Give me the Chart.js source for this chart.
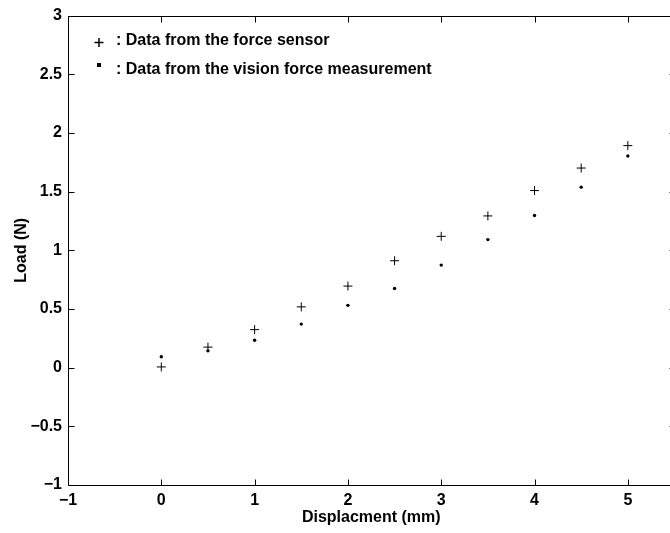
<!DOCTYPE html>
<html>
<head>
<meta charset="utf-8">
<script src="https://cdn.jsdelivr.net/npm/chart.js@4.4.0/dist/chart.umd.min.js"></script>
<style>
    html, body { margin: 0; padding: 0; background: #fff; overflow: hidden; }
    #wrap { width: 680px; height: 533px; }
</style>
</head>
<body>
<div id="wrap"><canvas id="chart" width="680" height="533"></canvas></div>
<script>
// Datos
const desplazamiento = [0, 0.5, 1, 1.5, 2, 2.5, 3, 3.5, 4, 4.5, 5];
const cargaSensor = [0.006, 0.175, 0.324, 0.518, 0.695, 0.911, 1.119, 1.293, 1.509, 1.701, 1.892];
const cargaVision = [0.093, 0.143, 0.234, 0.371, 0.531, 0.675, 0.874, 1.091, 1.296, 1.538, 1.804];

const ticksX = [-1, 0, 1, 2, 3, 4, 5];
const ticksY = [-1, -0.5, 0, 0.5, 1, 1.5, 2, 2.5, 3];
const leyenda = [': Data from the force sensor', ': Data from the vision force measurement'];

const FUENTE = "'Liberation Sans', Arial, Helvetica, sans-serif";

// Formato de etiquetas con signo menos tipográfico
function formatoTick(v) {
    return String(v).replace('-', '\u2212');
}

// Marco y marcas hacia dentro, estilo MATLAB
const marcoPlugin = {
    id: 'marco',
    afterDraw(chart) {
        const ctx = chart.ctx;
        const a = chart.chartArea;
        const sx = chart.scales.x;
        const sy = chart.scales.y;
        const L = Math.round(a.left) + 0.5;
        const R = Math.round(a.right) + 0.5;
        const T = Math.round(a.top) + 0.5;
        const B = Math.round(a.bottom) + 0.5;
        const largo = 6;

        ctx.save();
        ctx.strokeStyle = '#000';
        ctx.lineWidth = 1;
        ctx.beginPath();
        ctx.rect(L, T, R - L, B - T);
        ctx.stroke();

        ctx.beginPath();
        ticksX.forEach(v => {
            const px = Math.round(sx.getPixelForValue(v)) + 0.5;
            ctx.moveTo(px, B); ctx.lineTo(px, B - largo);
            ctx.moveTo(px, T); ctx.lineTo(px, T + largo);
        });
        ticksY.forEach(v => {
            const py = Math.round(sy.getPixelForValue(v)) + 0.5;
            ctx.moveTo(L, py); ctx.lineTo(L + largo, py);
            ctx.moveTo(R, py); ctx.lineTo(R - largo, py);
        });
        ctx.stroke();

        // Leyenda
        ctx.fillStyle = '#000';
        ctx.font = 'bold 16px ' + FUENTE;
        ctx.textBaseline = 'middle';
        ctx.textAlign = 'left';

        ctx.beginPath();
        ctx.moveTo(94.5, 42.5); ctx.lineTo(103.5, 42.5);
        ctx.moveTo(99, 38); ctx.lineTo(99, 47);
        ctx.lineWidth = 1.5;
        ctx.stroke();
        ctx.fillText(leyenda[0], 116, 41);

        ctx.fillRect(97, 63, 4, 4);
        ctx.fillText(leyenda[1], 116, 70);
        ctx.restore();
    }
};

const ctx = document.getElementById('chart').getContext('2d');
const grafico = new Chart(ctx, {
    type: 'scatter',
    data: {
        datasets: [
            {
                label: 'Data from the force sensor',
                data: desplazamiento.map((x, i) => ({ x: x, y: cargaSensor[i] })),
                pointStyle: 'cross',
                radius: 4.5,
                borderColor: '#000',
                borderWidth: 1
            },
            {
                label: 'Data from the vision force measurement',
                data: desplazamiento.map((x, i) => ({ x: x, y: cargaVision[i] })),
                pointStyle: 'circle',
                radius: 1.7,
                backgroundColor: '#000',
                borderWidth: 0
            }
        ]
    },
    options: {
        responsive: false,
        animation: false,
        events: [],
        layout: { padding: { top: 11, right: 5.4, left: 0, bottom: 0 } },
        plugins: {
            legend: { display: false },
            tooltip: { enabled: false }
        },
        scales: {
            x: {
                type: 'linear',
                min: -1,
                max: 5.5,
                afterBuildTicks: s => { s.ticks = ticksX.map(v => ({ value: v })); },
                afterFit: s => { s.height = 48; },
                grid: { display: false, drawTicks: false },
                border: { display: false },
                ticks: {
                    padding: 6,
                    color: '#000',
                    font: { family: FUENTE, size: 16, weight: 'bold' },
                    callback: formatoTick,
                    maxRotation: 0,
                    autoSkip: false
                },
                title: {
                    display: true,
                    text: 'Displacment (mm)',
                    color: '#000',
                    font: { family: FUENTE, size: 16, weight: 'bold' },
                    padding: { top: 0, bottom: 6 }
                }
            },
            y: {
                type: 'linear',
                min: -1,
                max: 3,
                afterBuildTicks: s => { s.ticks = ticksY.map(v => ({ value: v })); },
                afterFit: s => { s.width = 68; },
                grid: { display: false, drawTicks: false },
                border: { display: false },
                ticks: {
                    padding: 6,
                    color: '#000',
                    font: { family: FUENTE, size: 16, weight: 'bold' },
                    callback: formatoTick,
                    autoSkip: false
                },
                title: {
                    display: true,
                    text: 'Load (N)',
                    color: '#000',
                    font: { family: FUENTE, size: 16, weight: 'bold' },
                    padding: { top: 12, bottom: 0 }
                }
            }
        }
    },
    plugins: [marcoPlugin]
});
</script>
</body>
</html>
